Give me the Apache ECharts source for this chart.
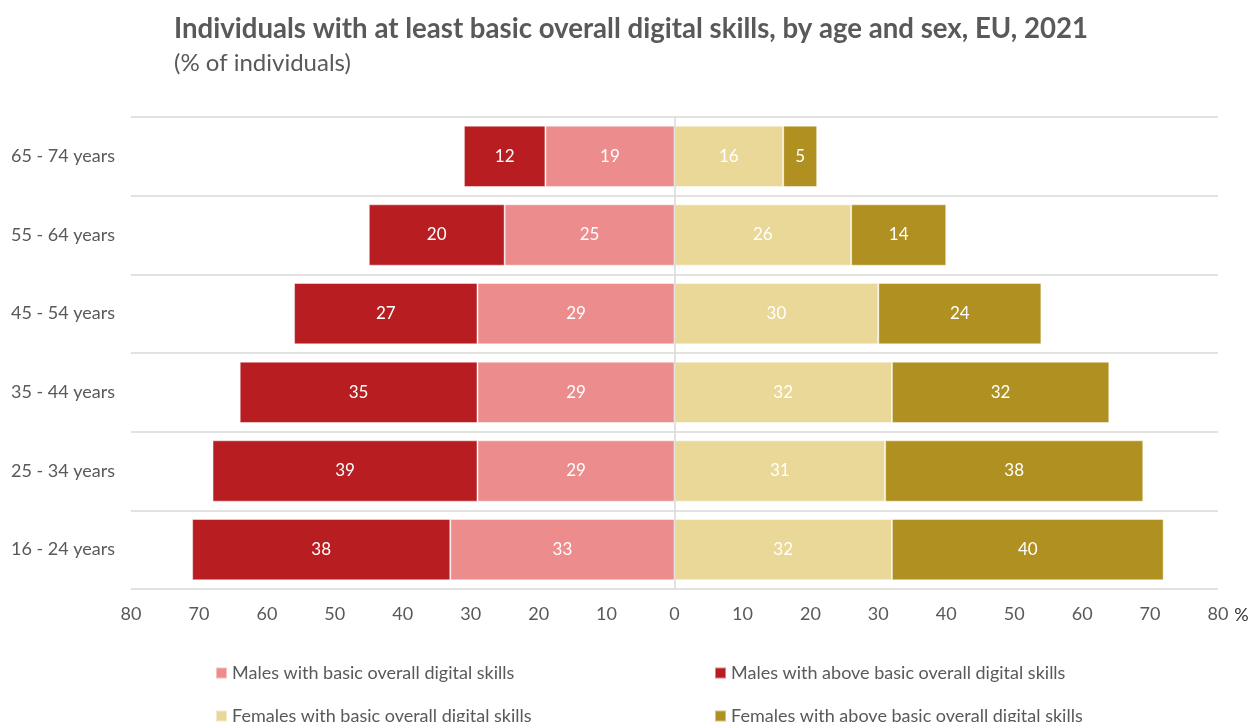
<!DOCTYPE html>
<html>
<head>
<meta charset="utf-8">
<script src="https://cdn.jsdelivr.net/npm/echarts@6/dist/echarts.min.js"></script>
<style>
  html, body { margin: 0; padding: 0; background: #ffffff; }
  #chart { width: 1252px; height: 722px; }
</style>
</head>
<body>
<div id="chart"></div>
<script>
// Age groups, bottom row first
const ageGroups = ['16 - 24 years', '25 - 34 years', '35 - 44 years', '45 - 54 years', '55 - 64 years', '65 - 74 years'];

// Shares of individuals (%), same order as ageGroups
const malesBasic = [33, 29, 29, 29, 25, 19];
const malesAboveBasic = [38, 39, 35, 27, 20, 12];
const femalesBasic = [32, 31, 32, 30, 26, 16];
const femalesAboveBasic = [40, 38, 32, 24, 14, 5];

const axisTicks = [-80, -70, -60, -50, -40, -30, -20, -10, 0, 10, 20, 30, 40, 50, 60, 70, 80];

const seriesNames = {
  mb: 'Males with basic overall digital skills',
  ma: 'Males with above basic overall digital skills',
  fb: 'Females with basic overall digital skills',
  fa: 'Females with above basic overall digital skills'
};

const FONT = 'Lato, "Open Sans", sans-serif';
const TEXT = '#595959';

const valueLabel = {
  show: true,
  position: 'inside',
  color: '#ffffff',
  fontFamily: FONT,
  fontSize: 17,
  formatter: p => Math.abs(p.value)
};

// males are drawn to the left (negative), females to the right; one shared stack
function barSeries(name, values, color, negate) {
  return {
    name: name,
    type: 'bar',
    stack: 'total',
    stackStrategy: 'samesign',
    barCategoryGap: '22%',
    data: values.map(v => negate ? -v : v),
    itemStyle: { color: color, borderColor: 'rgba(255,255,255,0.45)', borderWidth: 1 },
    label: valueLabel,
    emphasis: { disabled: true }
  };
}

const series = [
  barSeries(seriesNames.mb, malesBasic, '#ec8c8c', true),
  barSeries(seriesNames.ma, malesAboveBasic, '#b81e21', true),
  barSeries(seriesNames.fb, femalesBasic, '#ead898', false),
  barSeries(seriesNames.fa, femalesAboveBasic, '#b09020', false)
];

// vertical reference line at zero
series[0].markLine = {
  silent: true,
  symbol: 'none',
  label: { show: false },
  lineStyle: { color: '#d9d9d9', width: 1.5, type: 'solid' },
  data: [{ xAxis: 0 }]
};

function legendItem(name, left, top) {
  return {
    left: left, top: top,
    itemWidth: 11, itemHeight: 11, icon: 'rect',
    textStyle: { fontFamily: FONT, fontSize: 18, color: TEXT },
    data: [name],
    selectedMode: false
  };
}

const chart = echarts.init(document.getElementById('chart'), null, { renderer: 'canvas' });

chart.setOption({
  animation: false,
  backgroundColor: '#ffffff',
  title: [
    {
      text: 'Individuals with at least basic overall digital skills, by age and sex, EU, 2021',
      left: 169, top: 10,
      textStyle: { fontFamily: FONT, fontSize: 27.6, fontWeight: 'bold', color: TEXT }
    },
    {
      text: '(% of individuals)',
      left: 169, top: 46,
      textStyle: { fontFamily: FONT, fontSize: 24, fontWeight: 'normal', color: TEXT }
    }
  ],
  legend: [
    legendItem(seriesNames.mb, 210, 659),
    legendItem(seriesNames.ma, 709, 659),
    legendItem(seriesNames.fb, 210, 702),
    legendItem(seriesNames.fa, 709, 702)
  ],
  grid: { left: 131, right: 34, top: 117, bottom: 133, containLabel: false },
  xAxis: {
    type: 'value',
    min: axisTicks[0],
    max: axisTicks[axisTicks.length - 1],
    interval: 10,
    name: '%',
    nameLocation: 'end',
    nameGap: 16,
    nameTextStyle: { fontFamily: FONT, fontSize: 18, color: '#333333', verticalAlign: 'top', padding: [17, 0, 0, 0] },
    axisLine: { show: false },
    axisTick: { show: false },
    splitLine: { show: false },
    axisLabel: {
      margin: 16,
      fontFamily: FONT, fontSize: 18, color: TEXT,
      formatter: v => Math.abs(v)
    }
  },
  yAxis: {
    type: 'category',
    data: ageGroups,
    axisLine: { show: false },
    axisTick: { show: false },
    splitLine: { show: true, lineStyle: { color: '#d9d9d9', width: 1.5 } },
    axisLabel: { margin: 16, fontFamily: FONT, fontSize: 18, color: TEXT }
  },
  series: series
});
</script>
</body>
</html>
